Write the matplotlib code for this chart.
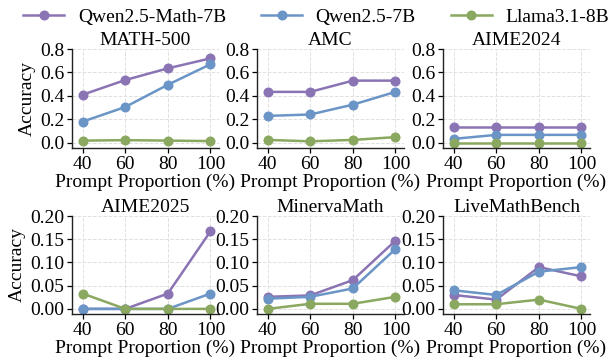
import matplotlib
matplotlib.use("Agg")
import matplotlib.pyplot as plt

plt.rcParams['font.family'] = ['Liberation Serif', 'DejaVu Serif']
plt.rcParams['font.size'] = 14

proportions = [40, 60, 80, 100]
models = ["Qwen2.5-Math-7B", "Qwen2.5-7B", "Llama3.1-8B"]
colors = ["#8a74b4", "#6a95c6", "#8aa860"]

benchmarks = ["MATH-500", "AMC", "AIME2024", "AIME2025", "MinervaMath", "LiveMathBench"]

math500 = [[0.41, 0.535, 0.635, 0.72], [0.18, 0.305, 0.495, 0.67], [0.018, 0.022, 0.018, 0.014]]
amc = [[0.434, 0.434, 0.530, 0.530], [0.229, 0.241, 0.325, 0.434], [0.024, 0.012, 0.024, 0.048]]
aime2024 = [[0.133, 0.133, 0.133, 0.133], [0.033, 0.067, 0.067, 0.067], [0.0, 0.0, 0.0, 0.0]]
aime2025 = [[0.0, 0.0, 0.033, 0.167], [0.0, 0.0, 0.0, 0.033], [0.033, 0.0, 0.0, 0.0]]
minerva = [[0.026, 0.029, 0.062, 0.147], [0.022, 0.026, 0.044, 0.129], [0.0, 0.011, 0.011, 0.026]]
livemath = [[0.03, 0.02, 0.09, 0.07], [0.04, 0.03, 0.08, 0.09], [0.01, 0.01, 0.02, 0.0]]

all_data = [math500, amc, aime2024, aime2025, minerva, livemath]
top_ticks = [0.0, 0.2, 0.4, 0.6, 0.8]
bot_ticks = [0.00, 0.05, 0.10, 0.15, 0.20]

W, H = 614, 358
fig = plt.figure(figsize=(W / 100, H / 100), dpi=100)

lefts = [72, 257, 443]
width = 147
rows = [(49, 148), (216, 314)]

handles = []
for i, (name, data) in enumerate(zip(benchmarks, all_data)):
    r, c = divmod(i, 3)
    top, bot = rows[r]
    ax = fig.add_axes([lefts[c] / W, 1 - bot / H, width / W, (bot - top) / H])
    for j, series in enumerate(data):
        ln, = ax.plot(proportions, series, color=colors[j], marker='o', markersize=6.2,
                      linewidth=1.8, label=models[j])
        if i == 0:
            handles.append(ln)
    ax.set_xlim(35, 104)
    ax.set_xticks(proportions)
    if r == 0:
        ax.set_ylim(-0.045, 0.8)
        ax.set_yticks(top_ticks)
        ax.set_yticklabels([f"{t:.1f}" for t in top_ticks])
    else:
        ax.set_ylim(-0.011, 0.2)
        ax.set_yticks(bot_ticks)
        ax.set_yticklabels([f"{t:.2f}" for t in bot_ticks])
    ax.set_title(name, fontsize=14, pad=3)
    ax.set_xlabel("Prompt Proportion (%)", fontsize=14, labelpad=1)
    if c == 0:
        ax.set_ylabel("Accuracy", fontsize=14, labelpad=3)
    ax.grid(True, linestyle='--', color='#e0e0e0', linewidth=0.7)
    ax.set_axisbelow(True)
    for s in ['top', 'right']:
        ax.spines[s].set_visible(False)
    for s in ['left', 'bottom']:
        ax.spines[s].set_color('#222222')
        ax.spines[s].set_linewidth(1.0)
    ax.tick_params(axis='both', labelsize=14, length=3.5, width=0.9, pad=2)

fig.legend(handles=handles, labels=models, loc='upper center', bbox_to_anchor=(0.515, 1.025),
           ncol=3, frameon=False, fontsize=14, handlelength=2.1, columnspacing=1.8,
           handletextpad=0.7)

fig.savefig("out.png", dpi=100)
